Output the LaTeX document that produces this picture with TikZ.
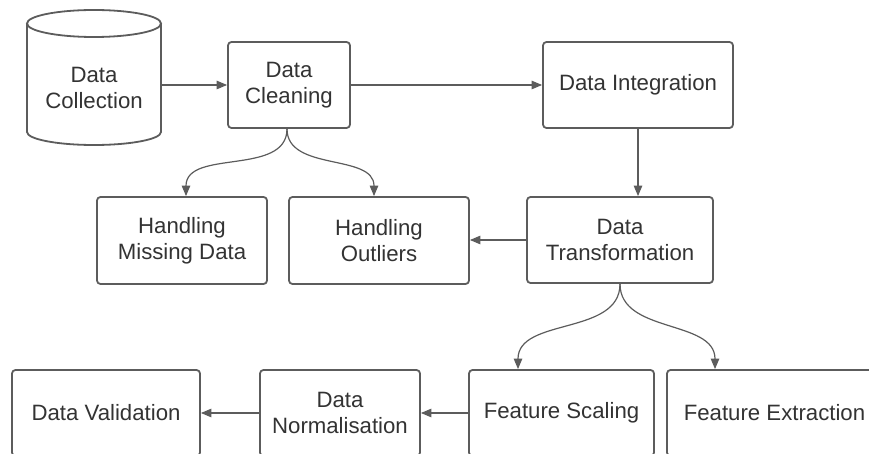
\documentclass[tikz,border=0pt]{standalone}
\usepackage{fontspec}
\setmainfont{Liberation Sans}
\usetikzlibrary{arrows.meta}
\definecolor{edge}{HTML}{5C5C5C}
\definecolor{ink}{HTML}{333333}
\begin{document}
\begin{tikzpicture}[x=1pt,y=1pt,
  box/.style={draw=edge, line width=1.8pt, rounded corners=3.5pt, fill=white,
    text=ink, align=center, inner sep=0pt, minimum height=86pt,
    font=\fontsize{22.2}{26}\selectfont},
  link/.style={draw=edge, line width=1.2pt,
    -{Triangle[length=10.5pt,width=8.5pt]}},
  curvelink/.style={link, out=-90, in=90, looseness=1}]
\useasboundingbox (0,0) rectangle (869,-454);
\clip (0,0) rectangle (869,-454);

% database cylinder
\draw[edge, line width=1.8pt, fill=white]
  (27,-23.5) -- (27,-132) arc[start angle=180, end angle=360, x radius=67pt, y radius=13pt]
  -- (161,-23.5);
\draw[edge, line width=1.8pt] (94,-23.5) ellipse[x radius=67pt, y radius=13.5pt];
\node[box, draw=none, fill=none, minimum width=134pt, minimum height=135pt] (collect) at (94,-77.5) {};
\node[box, draw=none, fill=none, minimum height=0pt] (collectlabel) at (94,-88) {Data\\Collection};

% process boxes
\node[box, minimum width=122pt] (clean) at (289,-85) {Data\\Cleaning};
\node[box, minimum width=190pt] (integ) at (638,-85) {Data Integration};
\node[box, minimum width=186pt] (trans) at (620,-240) {Data\\Transformation};
\node[box, minimum width=180pt, minimum height=87pt] (outl) at (379,-240.5) {Handling\\Outliers};
\node[box, minimum width=170pt, minimum height=87pt] (miss) at (182,-240.5) {Handling\\Missing Data};
\node[box, minimum width=185pt] (scale) at (561.5,-413) {Feature Scaling};
\node[box, minimum width=215pt] (extr) at (774.5,-413) {Feature Extraction};
\node[box, minimum width=160pt] (norm) at (340,-413) {Data\\Normalisation};
\node[box, minimum width=188pt] (valid) at (106,-413) {Data Validation};

% connectors
\draw[link] (clean.west -| collect.east) -- (clean.west);
\draw[link] (clean.east) -- (integ.west);
\draw[link] (integ.south) -- (integ.south |- trans.north);
\draw[link] (trans.west) -- (outl.east |- trans.west);
\draw[link] (scale.west) -- (norm.east);
\draw[link] (norm.west) -- (valid.east);
\draw[curvelink] ([xshift=-2pt]clean.south) to ([xshift=4pt]miss.north);
\draw[curvelink] ([xshift=-2pt]clean.south) to ([xshift=-5pt]outl.north);
\draw[curvelink] (trans.south) to ([xshift=-43.5pt]scale.north);
\draw[curvelink] (trans.south) to ([xshift=-59.5pt]extr.north);
\end{tikzpicture}
\end{document}
